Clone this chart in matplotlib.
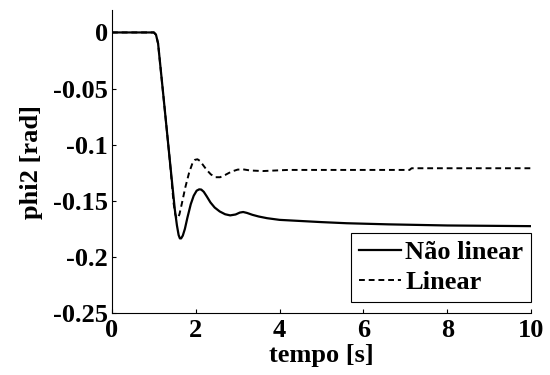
import matplotlib
matplotlib.use("Agg")
import matplotlib.pyplot as plt

# solid: nonlinear model response
t_nl = [0, 1.0, 1.05, 1.10, 1.22, 1.38, 1.50, 1.55, 1.59, 1.62, 1.65, 1.69, 1.74, 1.80,
        1.88, 1.95, 2.02, 2.08, 2.13, 2.19, 2.26, 2.35, 2.45, 2.57, 2.70, 2.82, 2.95,
        3.05, 3.13, 3.22, 3.35, 3.50, 3.70, 4.0, 4.5, 5.0, 5.6, 6.6, 8.0, 10.0]
phi_nl = [0, 0, -0.002, -0.0098, -0.054, -0.114, -0.158, -0.172, -0.1805, -0.1835, -0.1835,
          -0.181, -0.175, -0.165, -0.153, -0.1455, -0.141, -0.1398, -0.140, -0.142, -0.146,
          -0.1515, -0.156, -0.1595, -0.162, -0.163, -0.1622, -0.1605, -0.160, -0.1608,
          -0.1625, -0.164, -0.1655, -0.167, -0.168, -0.169, -0.170, -0.171, -0.172, -0.1726]

# dashed: linearised model response
t_lin = [0, 1.0, 1.05, 1.10, 1.22, 1.38, 1.47, 1.51, 1.54, 1.57, 1.61, 1.67, 1.75, 1.84,
         1.92, 1.98, 2.04, 2.10, 2.17, 2.26, 2.36, 2.47, 2.58, 2.70, 2.85, 3.0, 3.13,
         3.30, 3.60, 4.2, 7.1, 7.15, 10.0]
phi_lin = [0, 0, -0.002, -0.0098, -0.054, -0.114, -0.152, -0.162, -0.1655, -0.1655, -0.162,
           -0.152, -0.138, -0.125, -0.1165, -0.1135, -0.113, -0.1145, -0.118, -0.1225,
           -0.1265, -0.129, -0.129, -0.127, -0.124, -0.1222, -0.122, -0.123, -0.1235,
           -0.1225, -0.1225, -0.121, -0.121]

plt.rcParams['font.family'] = 'Liberation Serif'
plt.rcParams['font.weight'] = 'bold'

fig = plt.figure(figsize=(5.5, 3.75), dpi=100)
ax = fig.add_axes([0.2036, 0.1653, 0.762, 0.808])

ax.plot(t_nl, phi_nl, color='black', lw=1.6, label='Não linear')
ax.plot(t_lin, phi_lin, color='black', lw=1.4, ls=(0, (3, 2)), label='Linear')

ax.set_xlim(0, 10)
ax.set_ylim(-0.25, 0.02)
ax.set_xticks([0, 2, 4, 6, 8, 10])
ax.set_yticks([0, -0.05, -0.1, -0.15, -0.2, -0.25])
ax.set_yticklabels(['0', '-0.05', '-0.1', '-0.15', '-0.2', '-0.25'])
ax.tick_params(direction='in', labelsize=19, length=3, width=0.8)
ax.tick_params(axis='x', pad=4)
ax.tick_params(axis='y', pad=3)

for s in ['top', 'right']:
    ax.spines[s].set_visible(False)
for s in ['left', 'bottom']:
    ax.spines[s].set_linewidth(0.8)

ax.set_xlabel('tempo [s]', fontsize=19, fontweight='bold', labelpad=2)
ax.set_ylabel('phi2 [rad]', fontsize=19, fontweight='bold', labelpad=7)

leg = ax.legend(loc='lower right', bbox_to_anchor=(1.0, 0.035), fontsize=19,
                fancybox=False, framealpha=1, edgecolor='black', handlelength=1.6,
                handletextpad=0.15, borderpad=0.3, labelspacing=0.25, borderaxespad=0)
leg.get_frame().set_linewidth(0.8)

fig.savefig('out.png', dpi=100)
